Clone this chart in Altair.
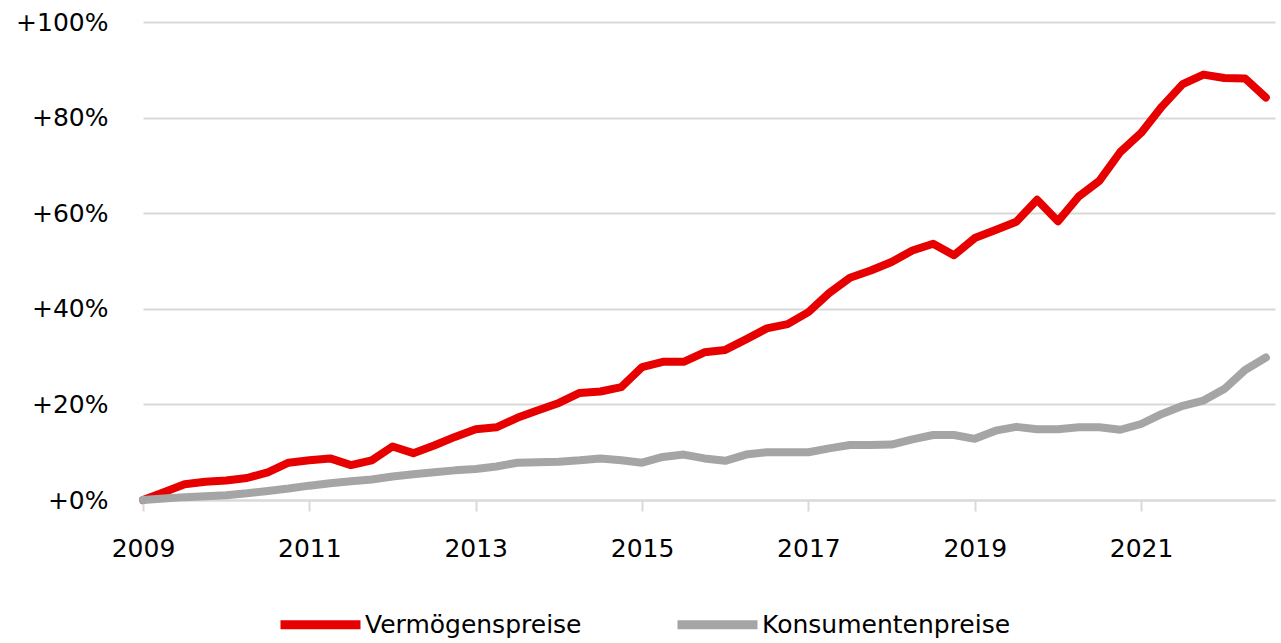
import altair as alt
import pandas as pd

# Quarterly observations, 2009 Q1 .. 2022 Q3 (index change since 2009, in %)
quarters = [2009 + i * 0.25 for i in range(55)]

vermoegen = [
    0.0, 1.6, 3.3, 3.8, 4.1, 4.6, 5.8, 7.8, 8.3, 8.7, 7.3, 8.3,
    11.2, 9.8, 11.4, 13.2, 14.8, 15.2, 17.2, 18.8, 20.3, 22.4, 22.7, 23.6,
    27.8, 28.9, 28.9, 30.9, 31.4, 33.6, 35.9, 36.8, 39.3, 43.3, 46.5, 48.0,
    49.8, 52.2, 53.6, 51.2, 54.8, 56.5, 58.2, 62.8, 58.3, 63.5, 66.8, 72.8,
    76.8, 82.3, 87.0, 89.0, 88.3, 88.2, 84.2,
]

konsumenten = [
    0.0, 0.3, 0.6, 0.8, 1.0, 1.4, 1.9, 2.4, 3.0, 3.5, 3.9, 4.3,
    4.9, 5.4, 5.8, 6.2, 6.5, 7.0, 7.8, 7.9, 8.0, 8.3, 8.7, 8.3,
    7.8, 9.0, 9.5, 8.7, 8.2, 9.5, 10.0, 10.0, 10.0, 10.8, 11.5, 11.5,
    11.6, 12.7, 13.6, 13.6, 12.8, 14.5, 15.3, 14.8, 14.8, 15.2, 15.2, 14.7,
    15.9, 18.0, 19.7, 20.8, 23.2, 27.2, 29.8,
]

series_names = ["Vermögenspreise", "Konsumentenpreise"]
series_colors = ["#E60000", "#A5A5A5"]
x_ticks = [2009, 2011, 2013, 2015, 2017, 2019, 2021]
y_ticks = [0, 20, 40, 60, 80, 100]

rows = []
for t, v in zip(quarters, vermoegen):
    rows.append({"t": t, "v": v, "s": series_names[0], "o": 1})
for t, v in zip(quarters, konsumenten):
    rows.append({"t": t, "v": v, "s": series_names[1], "o": 2})
df = pd.DataFrame(rows)

FONT = "DejaVu Sans"

chart = (
    alt.Chart(df)
    .mark_line(strokeWidth=8, strokeJoin="round", strokeCap="round")
    .encode(
        x=alt.X(
            "t:Q",
            scale=alt.Scale(domain=[2009, 2022.61], nice=False, zero=False),
            axis=alt.Axis(
                values=x_ticks,
                format="d",
                title=None,
                grid=False,
                domainColor="#D9D9D9",
                domainWidth=2,
                tickColor="#D9D9D9",
                tickWidth=2,
                tickSize=11,
                labelPadding=25,
                labelFontSize=25,
                labelFont=FONT,
                labelColor="#000000",
                labelFlush=False,
            ),
        ),
        y=alt.Y(
            "v:Q",
            scale=alt.Scale(domain=[0, 100], nice=False),
            axis=alt.Axis(
                values=y_ticks,
                labelExpr="'+' + datum.value + '%'",
                title=None,
                domain=False,
                ticks=False,
                gridColor="#D9D9D9",
                gridWidth=2,
                labelPadding=35,
                labelFontSize=25,
                labelFont=FONT,
                labelColor="#000000",
            ),
        ),
        color=alt.Color(
            "s:N",
            scale=alt.Scale(domain=series_names, range=series_colors),
            legend=alt.Legend(
                title=None,
                orient="none",
                direction="horizontal",
                legendX=133,
                legendY=558,
                symbolType="stroke",
                symbolSize=6400,
                symbolStrokeWidth=9,
                labelFontSize=25,
                labelFont=FONT,
                labelColor="#000000",
                labelOffset=0,
                columnPadding=77,
                labelLimit=400,
            ),
        ),
        order=alt.Order("o:Q"),
        detail="s:N",
    )
    .properties(
        width=1132,
        height=478,
        background="#FFFFFF",
        autosize=alt.AutoSizeParams(type="none"),
        padding={"left": 143, "top": 22, "right": 6, "bottom": 143},
    )
    .configure_view(stroke=None)
)

chart.save("out.html", embed_options={"renderer": "svg", "actions": False})
